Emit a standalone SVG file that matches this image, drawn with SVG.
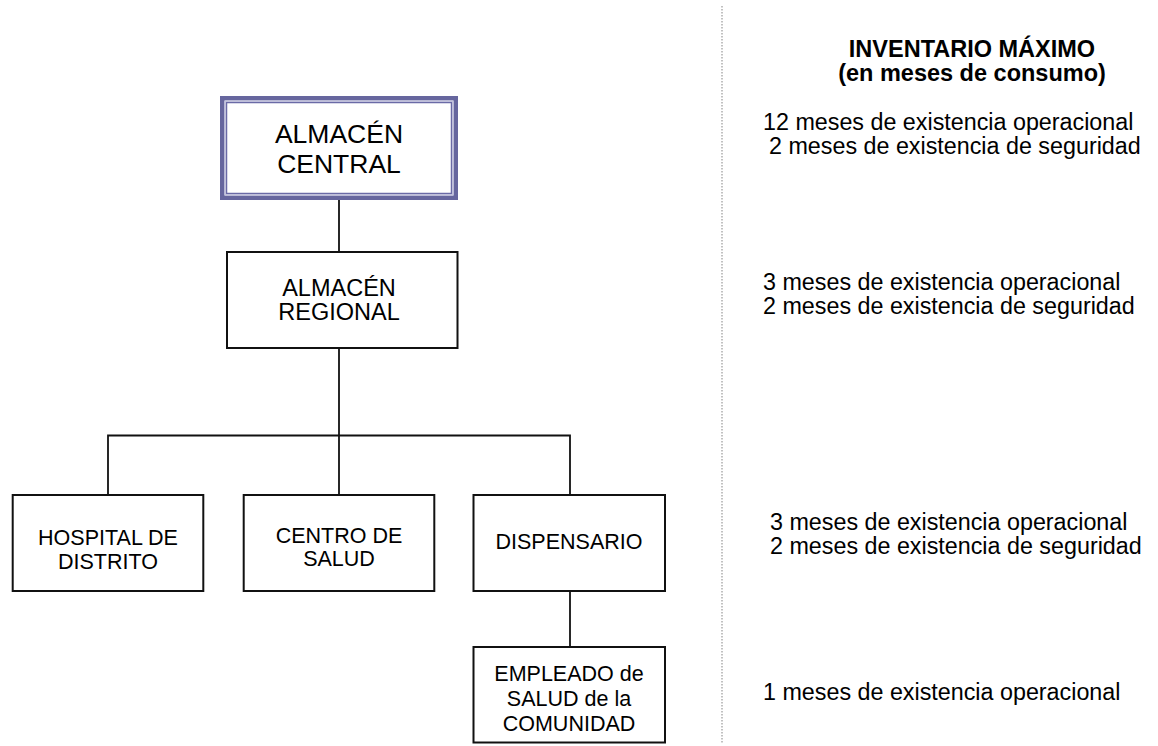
<svg xmlns="http://www.w3.org/2000/svg" width="1158" height="746" viewBox="0 0 1158 746">
<style>
.box{fill:#ffffff;stroke:#111111;stroke-width:2}
.lbl{font-family:"Liberation Sans",Arial,sans-serif;fill:#000000;text-anchor:middle}
.info{font-family:"Liberation Sans",Arial,sans-serif;fill:#000000;font-size:23.3px}
.conn{stroke:#111111;stroke-width:1.8;fill:none}
</style>
<rect width="1158" height="746" fill="#ffffff"/>
<line x1="722" y1="6" x2="722" y2="744" stroke="#a0a0a0" stroke-width="1.3" stroke-dasharray="1.5 1.5"/>
<g id="connectors">
<line class="conn" x1="339" y1="200" x2="339" y2="252"/>
<line class="conn" x1="339" y1="348" x2="339" y2="505"/>
<polyline class="conn" points="108,495 108,435.5 570,435.5 570,495"/>
<line class="conn" x1="570" y1="589" x2="570" y2="647"/>
</g>
<g id="almacen-central">
<rect x="220" y="96" width="238" height="104" fill="#ffffff"/>
<rect x="222.25" y="98.25" width="233.5" height="99.5" fill="none" stroke="#66669e" stroke-width="4.5"/>
<rect x="225.3" y="101.3" width="227.4" height="93.4" fill="none" stroke="#c4c4de" stroke-width="1.4"/>
<rect x="226.6" y="102.6" width="224.8" height="90.8" fill="none" stroke="#6a6aa6" stroke-width="1.3"/>
<text class="lbl" x="339" y="142.7" font-size="26.5">ALMACÉN</text>
<text class="lbl" x="339" y="173.3" font-size="26.5">CENTRAL</text>
</g>
<g id="almacen-regional">
<rect class="box" x="227" y="252" width="230.5" height="96"/>
<text class="lbl" x="339" y="295.5" font-size="23.5">ALMACÉN</text>
<text class="lbl" x="339" y="319.5" font-size="23.5">REGIONAL</text>
</g>
<g id="hospital">
<rect class="box" x="12.7" y="495" width="190.6" height="96"/>
<text class="lbl" x="108" y="545" font-size="21.5">HOSPITAL DE</text>
<text class="lbl" x="108" y="568.5" font-size="21.5">DISTRITO</text>
</g>
<g id="centro">
<rect class="box" x="243.7" y="495" width="190.6" height="96"/>
<text class="lbl" x="339" y="542.7" font-size="21.5">CENTRO DE</text>
<text class="lbl" x="339" y="566" font-size="21.5">SALUD</text>
</g>
<g id="dispensario">
<rect class="box" x="473.5" y="495" width="191.5" height="96"/>
<text class="lbl" x="569" y="549" font-size="21.5">DISPENSARIO</text>
</g>
<g id="empleado">
<rect class="box" x="473.5" y="647" width="191.5" height="95.5"/>
<text class="lbl" x="569" y="680.7" font-size="21.5">EMPLEADO de</text>
<text class="lbl" x="569" y="705.7" font-size="21.5">SALUD de la</text>
<text class="lbl" x="569" y="730.7" font-size="21.5">COMUNIDAD</text>
</g>
<g id="inventario">
<text class="lbl" x="972" y="57.4" font-size="23.5" font-weight="bold">INVENTARIO MÁXIMO</text>
<text class="lbl" x="972" y="81.4" font-size="23.5" font-weight="bold">(en meses de consumo)</text>
<text class="info" x="763" y="130">12 meses de existencia operacional</text>
<text class="info" x="769" y="153.5">2 meses de existencia de seguridad</text>
<text class="info" x="763" y="290">3 meses de existencia operacional</text>
<text class="info" x="763" y="313.5">2 meses de existencia de seguridad</text>
<text class="info" x="770" y="530">3 meses de existencia operacional</text>
<text class="info" x="770" y="553.5">2 meses de existencia de seguridad</text>
<text class="info" x="763" y="699.5">1 meses de existencia operacional</text>
</g>
</svg>
